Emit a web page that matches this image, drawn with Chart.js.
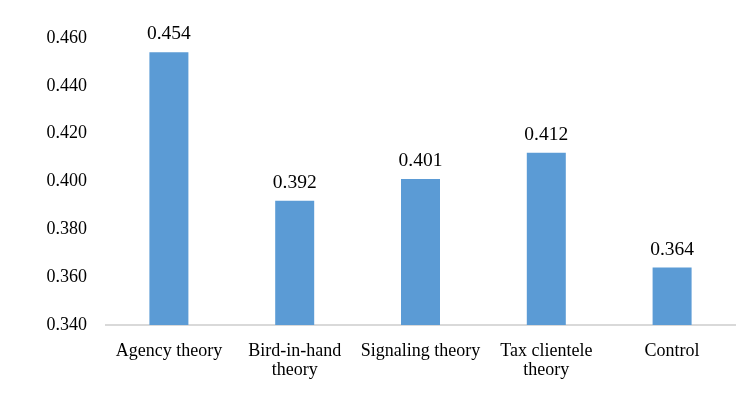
<!DOCTYPE html>
<html>
<head>
<meta charset="utf-8">
<script src="https://cdn.jsdelivr.net/npm/chart.js@4/dist/chart.umd.min.js"></script>
<style>
  html, body { margin: 0; padding: 0; background: #fff; }
  #wrap { width: 756px; height: 405px; position: relative; }
</style>
</head>
<body>
<div id="wrap"><canvas id="c"></canvas></div>
<script>
const categories = [["Agency theory"], ["Bird-in-hand", "theory"], ["Signaling theory"], ["Tax clientele", "theory"], ["Control"]];
const values = [0.454, 0.392, 0.401, 0.412, 0.364];
const yTicks = [0.340, 0.360, 0.380, 0.400, 0.420, 0.440, 0.460];

const labelPlugin = {
  id: 'valueLabels',
  afterDatasetsDraw(chart) {
    const ctx = chart.ctx;
    const meta = chart.getDatasetMeta(0);
    ctx.save();
    ctx.font = '19.5px "Liberation Serif", "Times New Roman", serif';
    ctx.fillStyle = '#000';
    ctx.textAlign = 'center';
    ctx.textBaseline = 'alphabetic';
    meta.data.forEach((bar, i) => {
      ctx.fillText(values[i].toFixed(3), bar.x, bar.y - 13);
    });
    ctx.restore();
  }
};

new Chart(document.getElementById('c'), {
  type: 'bar',
  data: {
    labels: categories,
    datasets: [{
      data: values,
      backgroundColor: '#5B9BD5',
      borderWidth: 0,
      barPercentage: 0.31,
      categoryPercentage: 1.0
    }]
  },
  options: {
    responsive: true,
    maintainAspectRatio: false,
    animation: false,
    layout: { padding: { top: 38, right: 21, left: 0, bottom: 0 } },
    plugins: { legend: { display: false }, tooltip: { enabled: false } },
    scales: {
      x: {
        grid: { display: false, drawTicks: false },
        border: { display: true, color: '#D9D9D9', width: 2 },
        ticks: {
          color: '#000',
          padding: 16,
          maxRotation: 0,
          autoSkip: false,
          font: { family: '"Liberation Serif", "Times New Roman", serif', size: 18, lineHeight: 1.1 }
        },
        afterFit(scale) { scale.height = 80; }
      },
      y: {
        min: 0.34,
        max: 0.46,
        afterBuildTicks(scale) { scale.ticks = yTicks.map(v => ({ value: v })); },
        grid: { display: false, drawTicks: false },
        border: { display: false },
        ticks: {
          color: '#000',
          padding: 19,
          callback: v => Number(v).toFixed(3),
          font: { family: '"Liberation Serif", "Times New Roman", serif', size: 18 }
        },
        afterFit(scale) { scale.width = 106; }
      }
    }
  },
  plugins: [labelPlugin]
});
</script>
</body>
</html>
